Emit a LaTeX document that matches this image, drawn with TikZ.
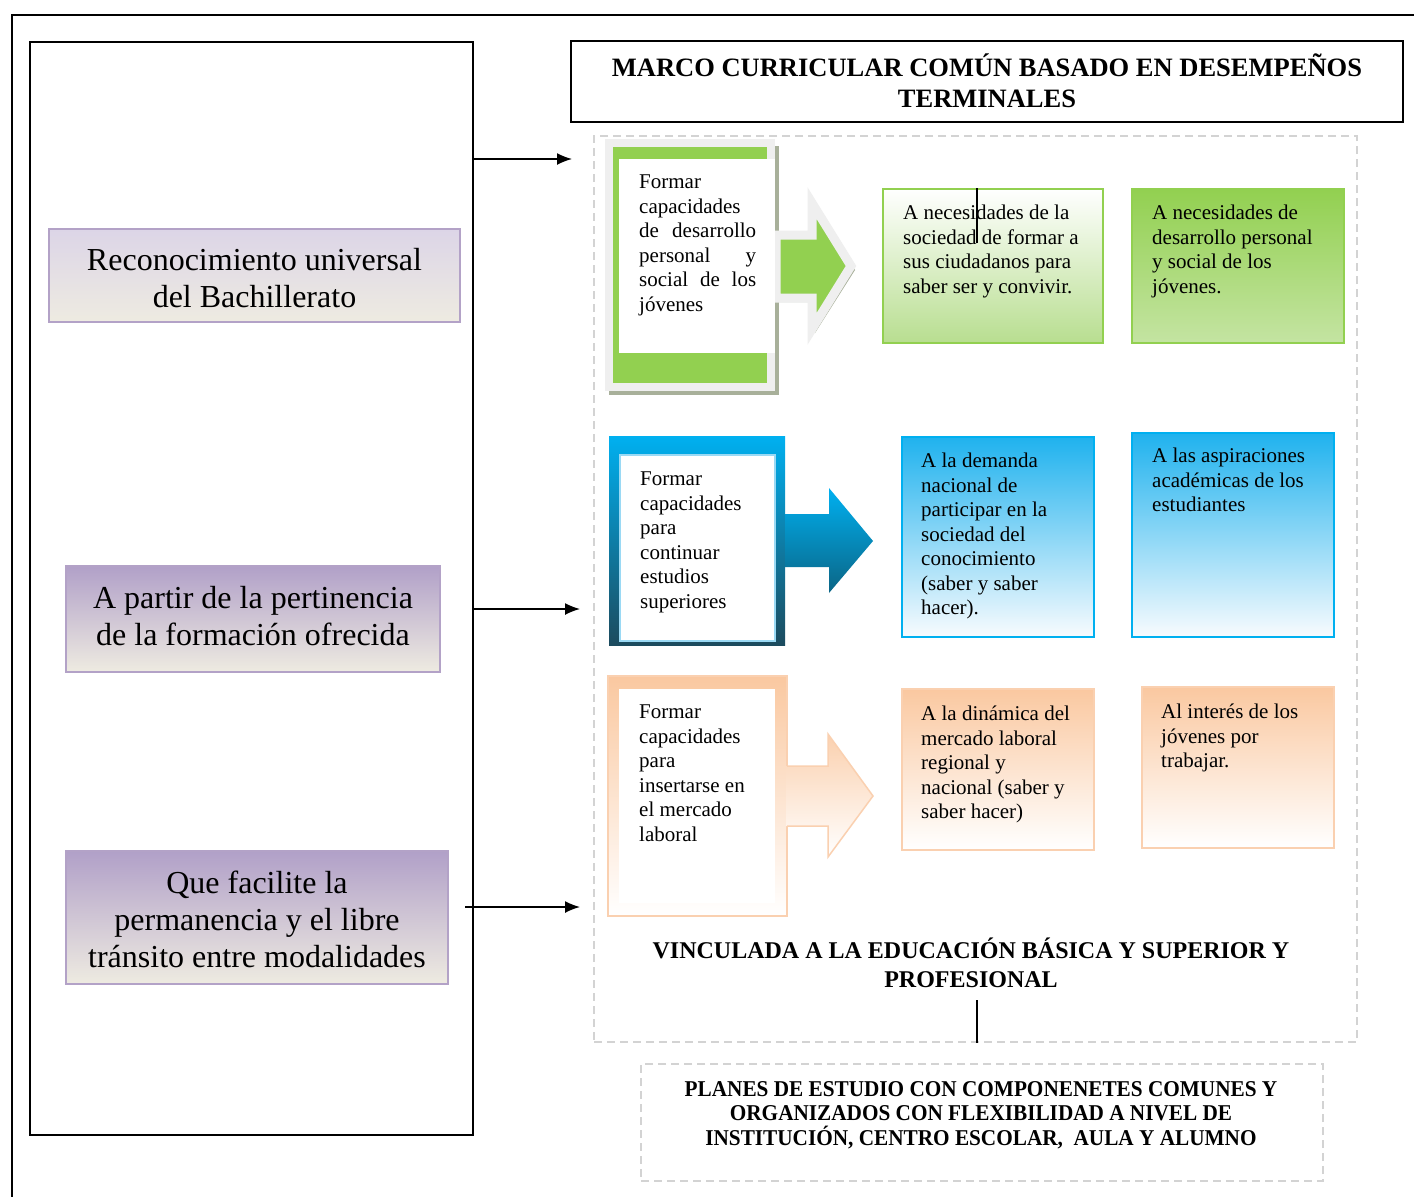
\documentclass[tikz,border=0pt]{standalone}
\usepackage{fontspec}
\setmainfont{Liberation Serif}
\newfontfamily\condfont[FakeStretch=0.94]{Liberation Serif}
\usetikzlibrary{arrows.meta}
\definecolor{pborder}{HTML}{B3A2C7}
\definecolor{ptopA}{HTML}{DCD5E7}
\definecolor{ptopB}{HTML}{B1A0C8}
\definecolor{pbot}{HTML}{EEEBE1}
\definecolor{gmain}{HTML}{92D050}
\definecolor{glight}{HTML}{B8DE90}
\definecolor{glight2}{HTML}{C4E4A2}
\definecolor{frgray}{HTML}{EFEFEF}
\definecolor{shad}{HTML}{A8B09A}
\definecolor{cyanm}{HTML}{00B0F0}
\definecolor{cyanb}{HTML}{1FB2EE}
\definecolor{cyanw}{HTML}{F8FBFE}
\definecolor{tealdark}{HTML}{1C4B5E}
\definecolor{tealarr}{HTML}{0B6585}
\definecolor{innerblue}{HTML}{9AD9F4}
\definecolor{peach}{HTML}{FAC8A0}
\definecolor{peachb}{HTML}{FAD0B0}
\definecolor{dashgray}{HTML}{D3D3D3}
\newcommand\bodyfont{\fontsize{21}{24.5}\selectfont}
\newcommand\purplefont{\fontsize{32}{37}\selectfont}
\newcommand\hdrfont{\bfseries\fontsize{26.5}{30.5}\selectfont}
\newcommand\vincfont{\bfseries\fontsize{24}{29}\selectfont}
\newcommand\planfont{\condfont\bfseries\fontsize{22.6}{24.5}\selectfont}
\begin{document}
\begin{tikzpicture}[x=1pt,y=-1pt,
  pbox/.style={draw=pborder, line width=1.5pt, inner sep=0pt, bottom color=pbot},
  ptxt/.style={align=center, font=\purplefont, inner sep=0pt},
  rbox/.style={line width=1.5pt, inner sep=0pt, anchor=north west},
  txt/.style={anchor=north west, inner sep=0pt, align=left, font=\bodyfont},
  dashbox/.style={draw=dashgray, line width=1.5pt, dash pattern=on 8pt off 5pt, inner sep=0pt},
  conn/.style={line width=1.5pt, -{Latex[length=15pt,width=12pt]}},
  blk/.style={line width=1.5pt}]
\useasboundingbox (0,0) rectangle (1414,1197);
\fill[white] (0,0) rectangle (1414,1197);

% outer frame
\draw[line width=2pt] (12,1197) -- (12,15) -- (1414,15);

% left column
\node[draw, line width=2pt, minimum width=443pt, minimum height=1093pt, anchor=north west, inner sep=0pt] (left) at (29,41) {};
\node[pbox, top color=ptopA, minimum width=411pt, minimum height=93pt] (p1) at (254.5,275.5) {};
\node[ptxt] (p1t) at (254.5,278.5) {Reconocimiento universal\\del Bachillerato};
\node[pbox, top color=ptopB, minimum width=374pt, minimum height=106pt] (p2) at (253,619) {};
\node[ptxt] (p2t) at (253,616) {A partir de la pertinencia\\de la formación ofrecida};
\node[pbox, top color=ptopB, minimum width=382pt, minimum height=133pt] (p3) at (257,917.5) {};
\node[ptxt] (p3t) at (257,919) {Que facilite la\\permanencia y el libre\\tránsito entre modalidades};

% connectors from left column
\coordinate (e1) at (572,159);
\coordinate (e2) at (580,609);
\coordinate (s3) at (465,907);
\coordinate (e3) at (580,907);
\draw[conn] (left.east |- e1) -- (e1);
\draw[conn] (left.east |- e2) -- (e2);
\draw[conn] (s3) -- (e3);

% header
\node[draw, line width=1.5pt, minimum width=832pt, minimum height=81pt, inner sep=0pt] (hdr) at (987,81.5) {};
\node[align=center, font=\hdrfont, inner sep=0pt] (hdrt) at (987,80.5) {MARCO CURRICULAR COMÚN BASADO EN DESEMPEÑOS\\TERMINALES};

% dashed container
\node[dashbox, minimum width=763pt, minimum height=906pt] (cont) at (975.5,589) {};

% ---------- row 1 ----------
\fill[shad] (609,146) rectangle (779,395);
\fill[frgray] (605,139) rectangle (775,391);
\fill[gmain] (613,147) rectangle (767,383);
\fill[shad] (779,238) -- (815,238) -- (815,207) -- (855,270) -- (815,333) -- (815,302) -- (779,302) -- cycle;
\filldraw[fill=gmain, draw=frgray, line width=9pt, line join=miter] (776,235) -- (812,235) -- (812,203) -- (851,266) -- (812,329) -- (812,298) -- (776,298) -- cycle;
\fill[white] (619,159) rectangle (775,353);
\node[txt] (t1) at (639,175) {Formar\\capacidades\\\makebox[117pt][s]{de desarrollo}\\\makebox[117pt][s]{personal y}\\\makebox[117pt][s]{social de los}\\jóvenes};

\node[rbox, draw=gmain, top color=white, bottom color=glight, minimum width=220pt, minimum height=154pt] (bA) at (882,188) {};
\node[txt] (tA) at (903,205) {A necesidades de la\\sociedad de formar a\\sus ciudadanos para\\saber ser y convivir.};
\coordinate (cur1) at (977,188);
\coordinate (cur2) at (977,243);
\draw[line width=1.5pt] (cur1) -- (cur2);
\node[rbox, draw=gmain, top color=gmain, bottom color=glight2, minimum width=212pt, minimum height=154pt] (bB) at (1131,188) {};
\node[txt] (tB) at (1152,205) {A necesidades de\\desarrollo personal\\y social de los\\jóvenes.};

% ---------- row 2 ----------
\shade[top color=cyanm, bottom color=tealdark] (609,436) rectangle (785,645);
\shade[top color=cyanm, bottom color=tealarr] (785,514) -- (829,514) -- (829,488) -- (873,541) -- (829,593) -- (829,567) -- (785,567) -- cycle;
\filldraw[fill=white, draw=innerblue, line width=1.5pt] (620,455) rectangle (775,641);
\node[txt] (t2) at (640,472) {Formar\\capacidades\\para\\continuar\\estudios\\superiores};

\node[rbox, draw=cyanm, top color=cyanb, bottom color=cyanw, minimum width=192pt, minimum height=200pt] (bC) at (901,436) {};
\node[txt] (tC) at (921,453) {A la demanda\\nacional de\\participar en la\\sociedad del\\conocimiento\\(saber y saber\\hacer).};
\node[rbox, draw=cyanm, top color=cyanb, bottom color=cyanw, minimum width=202pt, minimum height=204pt] (bD) at (1131,432) {};
\node[txt] (tD) at (1152,448) {A las aspiraciones\\académicas de los\\estudiantes};

% ---------- row 3 ----------
\shade[top color=peach, bottom color=white, draw=peachb, line width=1.5pt] (608,676) rectangle (787,916);
\shade[top color=peach!85, bottom color=white] (786,766) -- (828,766) -- (828,734) -- (873,796) -- (828,857) -- (828,826) -- (786,826) -- cycle;
\draw[draw=peachb, line width=1.5pt, line join=miter] (787,766) -- (828,766) -- (828,734) -- (873,796) -- (828,857) -- (828,826) -- (787,826);
\fill[white] (619,689) rectangle (775,903);
\node[txt] (t3) at (639,705) {Formar\\capacidades\\para\\insertarse en\\el mercado\\laboral};

\node[rbox, draw=peachb, top color=peach, bottom color=white, minimum width=192pt, minimum height=161pt] (bE) at (901,688) {};
\node[txt] (tE) at (921,706) {A la dinámica del\\mercado laboral\\regional y\\nacional (saber y\\saber hacer)};
\node[rbox, draw=peachb, top color=peach, bottom color=white, minimum width=192pt, minimum height=161pt] (bF) at (1141,686) {};
\node[txt] (tF) at (1161,704) {Al interés de los\\jóvenes por\\trabajar.};

% ---------- bottom ----------
\node[align=center, font=\vincfont, inner sep=0pt] (vinc) at (971,963) {VINCULADA A LA EDUCACIÓN BÁSICA Y SUPERIOR Y\\PROFESIONAL};
\coordinate (v1) at (977,1000);
\draw[blk] (v1) -- (v1 |- cont.south);

\node[dashbox, minimum width=682pt, minimum height=117pt] (plan) at (982,1122.5) {};
\node[align=center, font=\planfont, inner sep=0pt] (plantxt) at (981,1115) {PLANES DE ESTUDIO CON COMPONENETES COMUNES Y\\ORGANIZADOS CON FLEXIBILIDAD A NIVEL DE\\INSTITUCIÓN, CENTRO ESCOLAR,\ \ AULA Y ALUMNO};
\end{tikzpicture}
\end{document}
